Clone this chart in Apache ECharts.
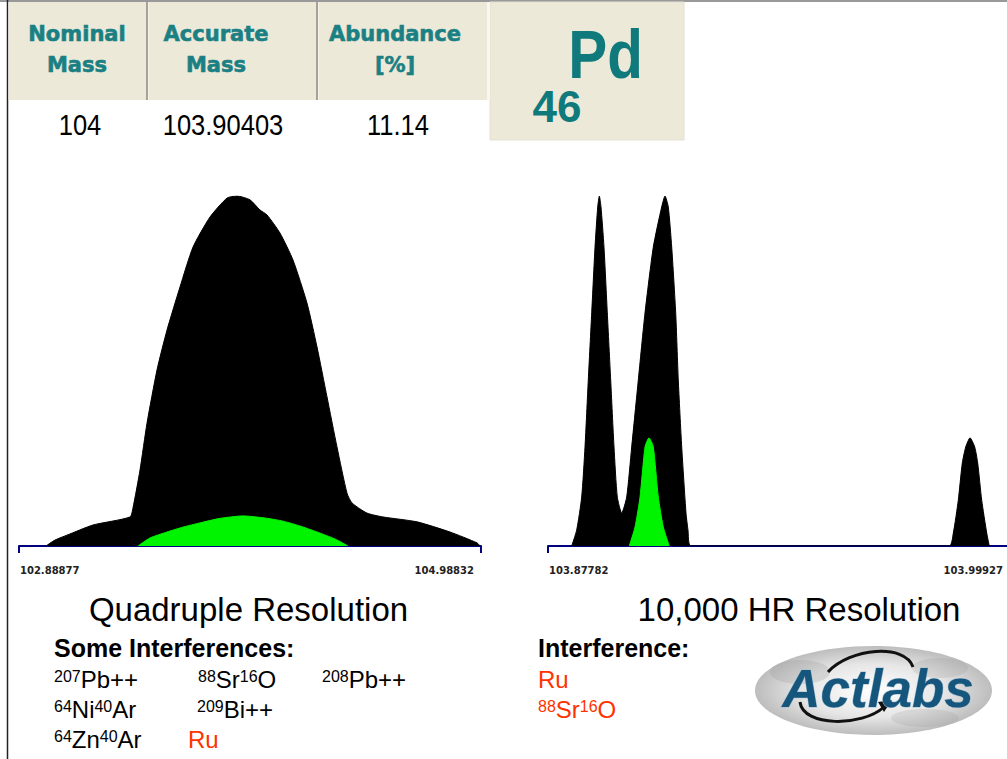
<!DOCTYPE html>
<html>
<head>
<meta charset="utf-8">
<script src="https://cdn.jsdelivr.net/npm/echarts@6/dist/echarts.min.js"></script>
<style>
html,body{margin:0;padding:0;overflow:hidden;background:#fff;}
#c{width:1012px;height:759px;}
</style>
</head>
<body>
<div id="c"></div>
<script>
// ---- axis extents (tick labels) ----
const quadAxisMin = 102.88877, quadAxisMax = 104.98832;
const hrAxisMin = 103.87782, hrAxisMax = 103.99927;

// ---- Quadrupole scan: total signal (black) ----
const quadTotalMass = [103.0115,103.0524,103.1069,103.2251,103.3932,103.4068,103.4387,103.4705,103.5159,103.5614,103.6204,103.6795,103.7568,103.8340,103.8795,103.9385,103.9840,104.0158,104.0749,104.1340,104.1976,104.2430,104.2885,104.3339,104.3794,104.4021,104.4703,104.5430,104.6975,104.8474,104.9702,104.9838];
const quadTotalInt  = [0,1.7,3.1,6.0,8.3,10.9,21.7,35.1,50.3,61.7,74.0,85.4,94.0,99.4,100,98.9,96.0,94.6,89.4,81.7,69.4,56.9,42.6,28.3,15.1,12.3,9.4,8.3,6.9,4.0,0.9,0];
// ---- Quadrupole scan: Pd component (green) ----
const quadPdMass = [103.4296,103.4841,103.5614,103.6341,103.7113,103.8022,103.9067,104.0067,104.0885,104.1660,104.2430,104.3248,104.3839];
const quadPdInt  = [0,2.3,4.0,5.4,6.6,7.9,8.6,8.0,7.1,5.7,4.0,2.0,0];

// ---- High resolution scan: total signal (black) ----
const hrTotalMass = [103.88405,103.88537,103.88668,103.88755,103.88841,103.88931,103.89018,103.89089,103.89131,103.89175,103.89254,103.89341,103.89430,103.89517,103.89604,103.89719,
  103.89851,103.89982,103.90156,103.90332,103.90550,103.90771,103.90858,103.90944,103.91034,103.91139,103.91207,103.91297,103.91410,103.91462,103.91533,
  103.98331,103.98437,103.98568,103.98673,103.98763,103.98876,103.98999,103.99078,103.99183,103.99315,103.99383];
const hrTotalInt  = [0,4.6,14.0,28.3,47.4,66.6,85.4,96.9,100,96.9,85.4,66.6,47.4,28.3,14.0,9.4,
  14.0,28.3,47.4,66.6,85.4,96.9,100,96.9,85.4,66.6,47.4,28.3,9.4,4.6,0,
  0,3.7,13.1,23.7,28.3,30.9,28.3,23.7,13.1,3.7,0];
// ---- High resolution scan: Pd component (green) ----
const hrPdMass = [103.89919,103.90069,103.90201,103.90332,103.90437,103.90550,103.90682,103.90813,103.90971];
const hrPdInt  = [0,5.4,14.0,28.3,30.9,28.3,14.0,5.4,0];

// ---- texts ----
const headerCols = [['Nominal','Mass'],['Accurate','Mass'],['Abundance','[%]']];
const headerValues = ['104','103.90403','11.14'];
const elementSymbol = 'Pd', atomicNumber = '46';
const panelTitles = ['Quadruple Resolution','10,000 HR Resolution'];

const zip = (a,b) => a.map((v,i)=>[v,b[i]]);

const chart = echarts.init(document.getElementById('c'), null, {renderer:'svg', width:1012, height:759});

function xAx(idx,min,max){
  return {
    type:'value', gridIndex:idx, min:min, max:max,
    splitLine:{show:false},
    axisLine:{show:true, onZero:false, lineStyle:{color:'#000080', width:2}},
    axisTick:{show:true, customValues:[min,max], length:7, inside:false, lineStyle:{color:'#000080', width:2}},
    axisLabel:{
      show:true, customValues:[min,max], margin:19,
      alignMinLabel:'left', alignMaxLabel:'right',
      formatter:(v)=> (Math.abs(v-min)<1e-9 ? '{l|'+v.toFixed(5)+'}' : '{r|'+v.toFixed(5)+'}'),
      rich:{
        l:{fontFamily:'DejaVu Sans', fontWeight:'bold', fontSize:10, color:'#222', padding:[0,0,0,1]},
        r:{fontFamily:'DejaVu Sans', fontWeight:'bold', fontSize:10, color:'#222', padding:[0,7,0,0]}
      }
    }
  };
}
function yAx(idx){
  return {type:'value', gridIndex:idx, min:0, max:100, show:false};
}
function area(xi, data, color, z){
  return {
    type:'line', xAxisIndex:xi, yAxisIndex:xi, data:data, symbol:'none', showSymbol:false,
    smooth:0.2, silent:true, z:z,
    lineStyle:{width:1, color:color}, areaStyle:{color:color, opacity:1}
  };
}

const T = (x,y,text,font,fill,align,extra) => Object.assign({
  type:'text', x:x, y:y, silent:true,
  style:{x:0, y:0, text:text, font:font, fill:fill, align:align||'center', verticalAlign:'middle'}
}, extra||{});

const teal = '#1b8083';
const red = '#ff3300';
const mainF = '"Liberation Sans", Arial, sans-serif';

// measure text widths to lay out formula pieces with superscripts
const mctx = document.createElement('canvas').getContext('2d');
const MAINFONT = '24px "Liberation Sans"', SUPFONT = '16px "Liberation Sans"';
function formula(x, y, parts, color, out){
  let cx = x;
  parts.forEach(p => {
    const sup = p[1];
    const font = sup ? SUPFONT : MAINFONT;
    mctx.font = font;
    const w = mctx.measureText(p[0]).width;
    out.push({type:'text', x:cx, y: sup ? y - 3 : y, silent:true,
      style:{x:0,y:0,text:p[0],font:font,fill:color,align:'left',verticalAlign:'middle'}});
    cx += w;
  });
}

const graphics = [
  // frame lines
  {type:'line', shape:{x1:0,y1:1,x2:1012,y2:1}, style:{stroke:'#777', lineWidth:1.5}, silent:true},
  {type:'line', shape:{x1:7.5,y1:0,x2:7.5,y2:759}, style:{stroke:'#222', lineWidth:1.5}, silent:true},
  // header boxes
  {type:'rect', shape:{x:8.5,y:2,width:478.5,height:98}, style:{fill:'#ece9d9'}, silent:true},
  {type:'rect', shape:{x:490,y:2,width:194,height:138}, style:{fill:'#ece9d9', stroke:'#e3e0d2', lineWidth:1}, silent:true},
  {type:'rect', shape:{x:146,y:2,width:2,height:98}, style:{fill:'#a6a396'}, silent:true},
  {type:'rect', shape:{x:148,y:2,width:1,height:98}, style:{fill:'#f6f4ea'}, silent:true},
  {type:'rect', shape:{x:316,y:2,width:2,height:98}, style:{fill:'#a6a396'}, silent:true},
  {type:'rect', shape:{x:318,y:2,width:1,height:98}, style:{fill:'#f6f4ea'}, silent:true},
  {type:'rect', shape:{x:487,y:2,width:3,height:98}, style:{fill:'#f8f7f1'}, silent:true}
];
const colX = [77, 216, 395];
headerCols.forEach((c,i)=>{
  graphics.push(T(colX[i],34,c[0],'bold 21px "DejaVu Sans"',teal,'center',{style:{x:0,y:0,text:c[0],font:'bold 21px "DejaVu Sans"',fill:teal,stroke:teal,lineWidth:0.6,align:'center',verticalAlign:'middle'}}));
  graphics.push(T(colX[i],65,c[1],'bold 21px "DejaVu Sans"',teal,'center',{style:{x:0,y:0,text:c[1],font:'bold 21px "DejaVu Sans"',fill:teal,stroke:teal,lineWidth:0.6,align:'center',verticalAlign:'middle'}}));
});
const valX = [80, 223, 398];
headerValues.forEach((v,i)=>{
  graphics.push(T(valX[i],125,v,'29px '+mainF,'#000','center',{scaleX:0.88}));
});
graphics.push(T(605.5,54,elementSymbol,'bold 68px '+mainF,'#10797c','center',{scaleX:0.86}));
graphics.push(T(557,106,atomicNumber,'bold 44px '+mainF,'#10797c','center'));
// panel titles
graphics.push(T(248.5,609,panelTitles[0],'33px '+mainF,'#000'));
graphics.push(T(799,609,panelTitles[1],'33px '+mainF,'#000'));
// interferences
graphics.push(T(54,648,'Some Interferences:','bold 25px '+mainF,'#000','left'));
formula(54,679,[['207',1],['Pb++',0]],'#000',graphics);
formula(198,679,[['88',1],['Sr',0],['16',1],['O',0]],'#000',graphics);
formula(322,679,[['208',1],['Pb++',0]],'#000',graphics);
formula(54,709,[['64',1],['Ni',0],['40',1],['Ar',0]],'#000',graphics);
formula(197,709,[['209',1],['Bi++',0]],'#000',graphics);
formula(54,739.5,[['64',1],['Zn',0],['40',1],['Ar',0]],'#000',graphics);
formula(188,739.5,[['Ru',0]],red,graphics);
graphics.push(T(538,648,'Interference:','bold 25px '+mainF,'#000','left'));
formula(538,679,[['Ru',0]],red,graphics);
formula(538,709,[['88',1],['Sr',0],['16',1],['O',0]],red,graphics);
// logo
graphics.push({type:'ellipse', silent:true, shape:{cx:873.5, cy:690.5, rx:118.5, ry:44.5},
  style:{fill:new echarts.graphic.RadialGradient(0.5,0.5,0.5,[{offset:0,color:'#ffffff'},{offset:0.6,color:'#e6e6e6'},{offset:1,color:'#bdbdbd'}])}});
graphics.push({type:'ellipse', silent:true, shape:{cx:800, cy:672, rx:30, ry:12}, style:{fill:'rgba(150,150,150,0.25)'}});
graphics.push({type:'ellipse', silent:true, shape:{cx:940, cy:668, rx:28, ry:10}, style:{fill:'rgba(150,150,150,0.22)'}});
graphics.push({type:'ellipse', silent:true, shape:{cx:925, cy:718, rx:34, ry:9}, style:{fill:'rgba(150,150,150,0.2)'}});
graphics.push({type:'bezierCurve', silent:true, shape:{x1:828,y1:672,x2:913,y2:667,cpx1:850,cpy1:648,cpx2:905,cpy2:643}, style:{stroke:'#111', lineWidth:3, fill:'none'}});
graphics.push({type:'bezierCurve', silent:true, shape:{x1:800,y1:702,x2:884,y2:707,cpx1:803,cpy1:727,cpx2:862,cpy2:727}, style:{stroke:'#111', lineWidth:3, fill:'none'}});
graphics.push({type:'polygon', silent:true, shape:{points:[[878,702],[892,700],[884,712]]}, style:{fill:'#111'}});
graphics.push({type:'text', x:878, y:688, silent:true, style:{x:0,y:0,text:'Actlabs',font:'italic bold 53px "Liberation Sans"',fill:'#16557c',stroke:'#9fbfd2',lineWidth:1,align:'center',verticalAlign:'middle'}});

chart.setOption({
  animation:false,
  backgroundColor:'#fff',
  grid:[
    {left:19, top:196, width:462, height:350},
    {left:548, top:196, width:462, height:350}
  ],
  xAxis:[xAx(0,quadAxisMin,quadAxisMax), xAx(1,hrAxisMin,hrAxisMax)],
  yAxis:[yAx(0), yAx(1)],
  series:[
    area(0, zip(quadTotalMass,quadTotalInt), '#000', 2),
    area(0, zip(quadPdMass,quadPdInt), '#00f400', 3),
    area(1, zip(hrTotalMass,hrTotalInt), '#000', 2),
    area(1, zip(hrPdMass,hrPdInt), '#00f400', 3)
  ],
  graphic:graphics
});
</script>
</body>
</html>
